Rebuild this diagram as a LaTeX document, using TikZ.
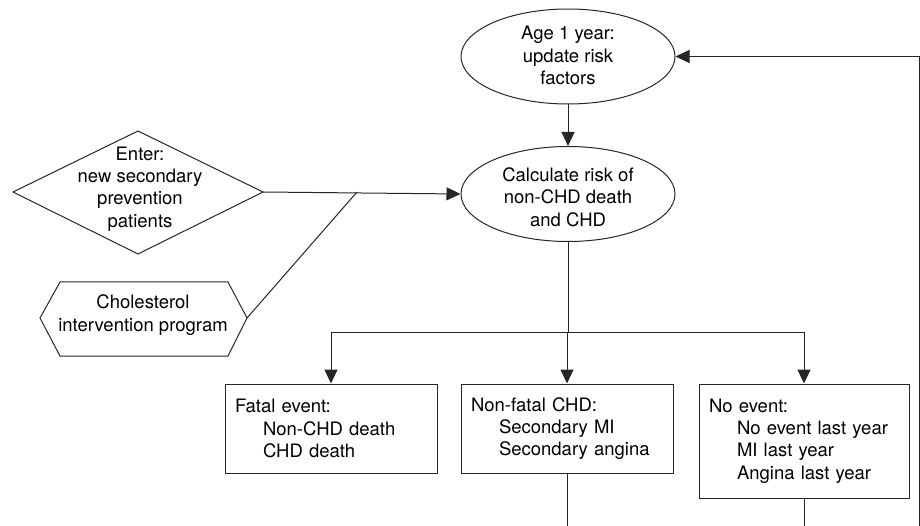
\documentclass[tikz,border=0pt]{standalone}
\usepackage{fontspec}
\setmainfont{TeX Gyre Heros}
\usetikzlibrary{shapes.geometric,arrows.meta,calc}
\begin{document}
\begin{tikzpicture}[x=1pt,y=-1pt,
  every node/.style={font=\fontsize{18.5}{22.3}\selectfont},
  line/.style={draw=black!85, line width=1pt},
  arr/.style={line, -{Triangle[length=14pt,width=13pt]}},
  oval/.style={ellipse, line, minimum width=214pt, minimum height=95pt, inner sep=0pt},
  box/.style={rectangle, line, minimum width=212pt, text width=192pt, inner xsep=10pt, inner ysep=0pt, align=left},
  txt/.style={align=center, inner sep=0pt}]
\useasboundingbox (0,0) rectangle (920,526);
% ellipses
\node[oval] (e1) at (568,56.5) {};
\node[txt] (e1t) at (568,55.5) {Age 1 year:\\update risk\\factors};
\node[oval] (e2) at (568,194) {};
\node[txt] (e2t) at (568,197) {Calculate risk of\\non-CHD death\\and CHD};
% diamond
\coordinate (dW) at (13,192);
\coordinate (dN) at (138,131);
\coordinate (dE) at (263,192);
\coordinate (dS) at (138,254);
\draw[line] (dW) -- (dN) -- (dE) -- (dS) -- cycle;
\node[txt] (enter) at (140,189) {Enter:\\new secondary\\prevention\\patients};
% hexagon
\coordinate (hW) at (40,318);
\coordinate (hNW) at (60,282);
\coordinate (hNE) at (228,282);
\coordinate (hE) at (247,318);
\coordinate (hSE) at (228,356);
\coordinate (hSW) at (60,356);
\draw[line] (hW) -- (hNW) -- (hNE) -- (hE) -- (hSE) -- (hSW) -- cycle;
\node[txt] (chol) at (143,315) {Cholesterol\\intervention program};
% boxes
\node[box, minimum height=89pt] (b1) at (331,428.5) {Fatal event:\\\hspace*{28pt}Non-CHD death\\\hspace*{28pt}CHD death};
\node[box, minimum height=89pt] (b2) at (567,428.5) {Non-fatal CHD:\\\hspace*{28pt}Secondary MI\\\hspace*{28pt}Secondary angina};
\node[box, minimum height=114pt, minimum width=210pt, text width=190pt] (b3) at (804,441) {No event:\\\hspace*{28pt}No event last year\\\hspace*{28pt}MI last year\\\hspace*{28pt}Angina last year};
% connectors
\coordinate (join) at (357,192);
\draw[arr] (dE) -- (e2.west);
\draw[line] (hE) -- (join);
\draw[arr] (e1.south) -- (e2.north);
\coordinate (split) at (568,332);
\draw[arr] (e2.south) -- (split) -- (split -| b2.north) -- (b2.north);
\draw[arr] (split) -| (b1.north);
\draw[arr] (split) -| (b3.north);
\coordinate (b2end) at (567,527);
\coordinate (b3end) at (804,527);
\draw[line] (b2.south) -- (b2end);
\draw[line] (b3.south) -- (b3end);
\coordinate (loopB) at (919,527);
\draw[arr] (loopB) |- (e1.east);
\end{tikzpicture}
\end{document}
